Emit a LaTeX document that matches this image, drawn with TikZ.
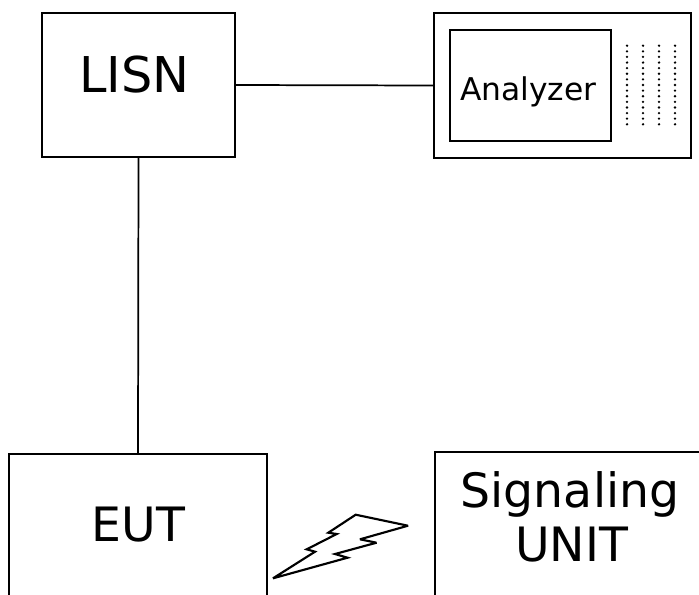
\documentclass[tikz,border=0pt]{standalone}
\usepackage{fontspec}
\setmainfont{DejaVu Sans}
\tikzset{
  box/.style={draw, line width=1.7pt, inner sep=0pt, fill=none},
  wire/.style={draw, line width=1.3pt},
  bigtext/.style={font=\fontsize{35.5}{42}\selectfont, anchor=base, inner sep=0pt},
  smalltext/.style={font=\fontsize{23.5}{28}\selectfont, anchor=base, inner sep=0pt},
  dotmark/.style={fill=black, draw=none},
}
\begin{document}
\begin{tikzpicture}[x=0.75pt, y=-0.75pt]
\useasboundingbox (0,0) rectangle (699,594);
\clip (0,0) rectangle (699,594);
% LISN
\node[box, minimum width=193*0.75pt, minimum height=144*0.75pt] (lisn) at (138.5,85) {};
\node[bigtext, font=\fontsize{37}{44}\selectfont] (lisnt) at (134.5,92.7) {LISN};
% Analyzer
\node[box, minimum width=257*0.75pt, minimum height=145*0.75pt] (analyzer) at (562.5,85.5) {};
\node[box, line width=2.1pt, minimum width=161*0.75pt, minimum height=111*0.75pt] (screen) at (530.5,85.5) {};
\node[smalltext] (analyzert) at (528.3,100) {Analyzer};
\foreach \cx in {627,643,659,675}{
  \foreach \r in {0,...,14}{
    \fill[dotmark] (\cx,45.7+\r*5.614) circle (1.3);
  }
}
% EUT
\node[box, minimum width=258*0.75pt, minimum height=166*0.75pt] (eut) at (138,537) {};
\node[bigtext] (eutt) at (138.3,541) {EUT};
% Signaling unit
\node[box, minimum width=285*0.75pt, minimum height=168*0.75pt] (sig) at (577.5,536) {};
\node[bigtext] (sigt1) at (570,507) {Signaling};
\node[bigtext] (sigt2) at (571.7,561.7) {UNIT};
% connectors
\draw[wire] (lisn.east) -- (analyzer.west);
\draw[wire] (lisn.south) -- (eut.north);
% lightning bolt
\draw[line width=1.6pt, line join=miter, miter limit=4] (273,578.3) -- (315,551.7) -- (306.7,549.3) -- (336.7,534) -- (328.3,532.7) -- (355.7,514.7) -- (408,525.7) -- (360,539.3) -- (376.5,542.7) -- (335,554) -- (347.5,557.7) -- cycle;
\end{tikzpicture}
\end{document}
